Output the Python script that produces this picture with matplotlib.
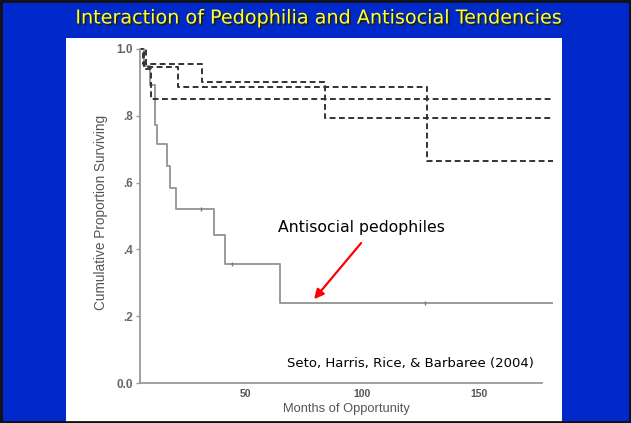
import matplotlib
matplotlib.use("Agg")
import matplotlib.pyplot as plt
import matplotlib.patheffects as pe
from matplotlib.patches import Rectangle

# Kaplan-Meier style survival steps (months, proportion surviving)
solid_t = [0, 6.7, 9.3, 11.4, 12.3, 16.6, 17.8, 20.4, 36.7, 41.4, 64.9, 181.7]
solid_s = [1.0, 0.95, 0.892, 0.772, 0.716, 0.650, 0.584, 0.521, 0.443, 0.356, 0.240, 0.240]
censor_t = [31.0, 44.5, 127.0]
censor_s = [0.521, 0.356, 0.240]

dash_b_t = [0, 6.3, 31.5, 84.2, 181.7]
dash_b_s = [1.0, 0.955, 0.901, 0.793, 0.793]
dash_c_t = [0, 7.6, 21.3, 127.8, 181.7]
dash_c_s = [1.0, 0.945, 0.886, 0.665, 0.665]
dash_d_t = [0, 6.7, 9.7, 181.7]
dash_d_s = [1.0, 0.94, 0.850, 0.850]

xticks = [50, 100, 150]
yticks = [0.0, 0.2, 0.4, 0.6, 0.8, 1.0]
ytick_labels = ["0.0", ".2", ".4", ".6", ".8", "1.0"]

W, H = 631, 423
fig = plt.figure(figsize=(W / 100, H / 100), dpi=100)
fig.patch.set_facecolor("#0029CC")

# white slide panel (behind the axes)
fig.patches.append(Rectangle((66 / W, 0), (562 - 66) / W, (423 - 38) / H,
                             transform=fig.transFigure, facecolor="white",
                             edgecolor="none", zorder=-10))
# outer frame
fig.patches.append(Rectangle((0.002, 0.002), 0.996, 0.995, transform=fig.transFigure,
                             facecolor="none", edgecolor="#111111", lw=2, zorder=5))

fig.text(318 / W, 1 - 18 / H, "Interaction of Pedophilia and Antisocial Tendencies",
         ha="center", va="center", color="#FFFF33", fontsize=13.8,
         family=["DejaVu Sans"],
         path_effects=[pe.withSimplePatchShadow(offset=(1.2, -1.2),
                                                shadow_rgbFace="#222200", alpha=1)])

ax = fig.add_axes([140 / W, (423 - 383) / H, (553 - 140) / W, (383 - 42.3) / H])
ax.set_facecolor("none")
ax.set_zorder(2)

grey = "#9a9a9a"
ax.step(solid_t, solid_s, where="post", color=grey, lw=1.4)
ax.plot(censor_t, censor_s, ls="none", marker="|", ms=3, color="#777777")

dash = (0, (3.0, 1.8))
for t, s in [(dash_b_t, dash_b_s), (dash_c_t, dash_c_s), (dash_d_t, dash_d_s)]:
    ax.step(t, s, where="post", color="#333333", lw=1.4, linestyle=dash)

ax.set_xlim(5, 181.7)
ax.set_ylim(0, 1.02)
for side in ["top", "right"]:
    ax.spines[side].set_visible(False)
ax.spines["left"].set_bounds(0, 1.0)
ax.spines["bottom"].set_bounds(5, 177)
for side in ["left", "bottom"]:
    ax.spines[side].set_color(grey)
    ax.spines[side].set_linewidth(1.3)

ax.set_xticks(xticks)
ax.set_yticks(yticks)
ax.set_yticklabels(ytick_labels)
ax.tick_params(axis="x", length=0, pad=4, labelsize=7.5, labelcolor="#555555")
ax.tick_params(axis="y", length=3, width=1, color=grey, pad=2, labelsize=8.5,
               labelcolor="#666666")
for lab in ax.get_xticklabels() + ax.get_yticklabels():
    lab.set_family("Liberation Sans")
    lab.set_fontweight("bold")

ax.set_xlabel("Months of Opportunity", family="Liberation Sans", fontsize=9.3,
              color="#555555", labelpad=3)
ax.set_ylabel("Cumulative Proportion Surviving", family="Liberation Sans",
              fontsize=9.8, color="#555555", labelpad=6)

ax.text(99.6, 0.467, "Antisocial pedophiles", ha="center", va="center",
        fontsize=11.3, color="black", family="DejaVu Sans")
ax.annotate("", xy=(79.5, 0.251), xytext=(99.6, 0.419),
            arrowprops=dict(arrowstyle="-|>", color="red", lw=1.6,
                            mutation_scale=14, shrinkA=0, shrinkB=0))
ax.text(120.5, 0.057, "Seto, Harris, Rice, & Barbaree (2004)", ha="center",
        va="center", fontsize=9.5, color="black", family="DejaVu Sans")

fig.savefig("out.png", dpi=100, facecolor=fig.get_facecolor())
